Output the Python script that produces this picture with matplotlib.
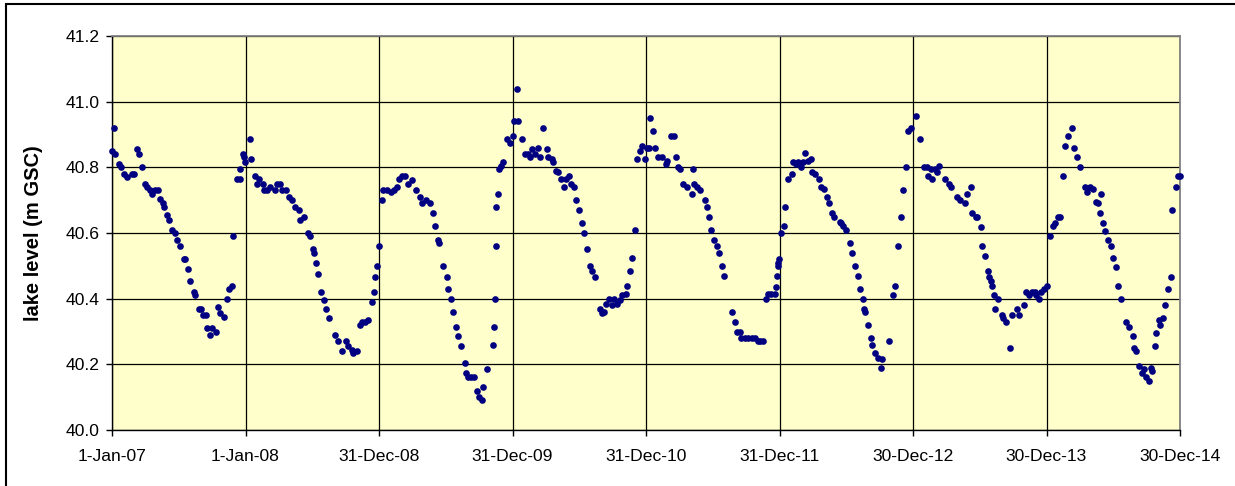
import numpy as np
import pandas as pd
import matplotlib
matplotlib.use('Agg')
import matplotlib.pyplot as plt
from matplotlib.patches import Rectangle

plt.rcParams['font.family'] = ['Liberation Sans', 'DejaVu Sans']

# Lake level readings. Days are counted from 1-Jan-2007.
START = pd.Timestamp('2007-01-01')

days_2007 = [0, 6, 9, 20, 24, 32, 41, 54, 59, 68, 73, 81, 91, 96, 105, 109, 118, 127, 130, 139,
             143, 150, 155, 164, 173, 178, 187, 196, 200, 209, 214, 223, 228, 237, 243, 250, 258,
             261, 267, 273, 285, 291, 296, 305, 314, 319, 328, 332, 341, 349, 351, 358, 360, 364,
             376, 380, 392, 396]
level_2007 = [40.85, 40.92, 40.84, 40.81, 40.80, 40.78, 40.77, 40.78, 40.78, 40.855, 40.84, 40.80,
              40.75, 40.74, 40.73, 40.72, 40.73, 40.73, 40.705, 40.69, 40.68, 40.655, 40.64, 40.61,
              40.60, 40.58, 40.56, 40.52, 40.52, 40.49, 40.455, 40.42, 40.41, 40.37, 40.37, 40.35,
              40.35, 40.31, 40.29, 40.31, 40.30, 40.375, 40.355, 40.345, 40.40, 40.43, 40.44, 40.59,
              40.765, 40.765, 40.795, 40.84, 40.83, 40.815, 40.885, 40.825, 40.775, 40.75]

days_2008 = [403, 412, 416, 423, 432, 446, 452, 458, 464, 476, 485, 492, 501, 510, 514, 525, 535,
             540, 549, 553, 558, 563, 571, 580, 585, 593, 611, 619, 628, 640, 646, 656, 660, 669,
             677, 683, 693, 701, 710, 717, 719, 724, 729, 738, 742, 751]
level_2008 = [40.765, 40.75, 40.73, 40.73, 40.74, 40.73, 40.75, 40.75, 40.73, 40.73, 40.71, 40.70,
              40.68, 40.67, 40.64, 40.65, 40.60, 40.59, 40.55, 40.54, 40.51, 40.475, 40.42, 40.395,
              40.37, 40.34, 40.29, 40.27, 40.24, 40.27, 40.255, 40.245, 40.235, 40.24, 40.32, 40.33,
              40.33, 40.335, 40.39, 40.42, 40.465, 40.50, 40.56, 40.70, 40.73, 40.73]

days_2009 = [762, 770, 779, 786, 792, 801, 810, 820, 831, 842, 847, 859, 870, 879, 884, 892, 893,
             906, 915, 920, 927, 932, 941, 945, 953, 964, 968, 974, 982, 990, 997, 1004, 1012,
             1015, 1025, 1043, 1045, 1047, 1049, 1051, 1054, 1059, 1064, 1070, 1081, 1088, 1095,
             1099, 1106, 1111]
level_2009 = [40.725, 40.73, 40.74, 40.765, 40.775, 40.775, 40.75, 40.76, 40.73, 40.71, 40.69,
              40.70, 40.69, 40.66, 40.62, 40.58, 40.57, 40.50, 40.465, 40.43, 40.40, 40.36, 40.315,
              40.285, 40.255, 40.205, 40.175, 40.16, 40.16, 40.16, 40.12, 40.10, 40.09, 40.13,
              40.185, 40.26, 40.315, 40.40, 40.56, 40.68, 40.72, 40.795, 40.805, 40.815, 40.885,
              40.875, 40.895, 40.94, 41.04, 40.94]

days_2010 = [1122, 1129, 1137, 1143, 1149, 1157, 1166, 1170, 1179, 1188, 1193, 1202, 1207, 1213,
             1219, 1228, 1237, 1240, 1250, 1255, 1264, 1268, 1277, 1286, 1291, 1299, 1307, 1313,
             1321, 1334, 1339, 1346, 1352, 1360, 1366, 1373, 1380, 1389, 1395, 1404, 1409, 1417,
             1422, 1430, 1435, 1444, 1450, 1457, 1462, 1468, 1471, 1478, 1484]
level_2010 = [40.885, 40.84, 40.84, 40.83, 40.855, 40.84, 40.86, 40.83, 40.92, 40.855, 40.83,
              40.825, 40.815, 40.79, 40.785, 40.765, 40.74, 40.765, 40.775, 40.75, 40.74, 40.70,
              40.67, 40.63, 40.60, 40.55, 40.50, 40.485, 40.465, 40.37, 40.355, 40.36, 40.385,
              40.40, 40.38, 40.40, 40.385, 40.395, 40.41, 40.415, 40.44, 40.485, 40.525, 40.61,
              40.825, 40.85, 40.865, 40.825, 40.86, 40.86, 40.95, 40.91, 40.86]

days_2011 = [1494, 1503, 1514, 1518, 1527, 1536, 1541, 1548, 1553, 1562, 1571, 1585, 1588, 1591,
             1600, 1609, 1621, 1626, 1633, 1637, 1646, 1655, 1660, 1668, 1673, 1695, 1703, 1708,
             1717, 1721, 1730, 1739, 1749, 1758, 1767, 1773, 1780, 1788, 1794, 1803, 1812, 1815,
             1819, 1820, 1822, 1824, 1828, 1837, 1841, 1849]
level_2011 = [40.83, 40.83, 40.81, 40.82, 40.895, 40.895, 40.83, 40.80, 40.795, 40.75, 40.74,
              40.72, 40.795, 40.75, 40.74, 40.73, 40.70, 40.68, 40.65, 40.61, 40.58, 40.56, 40.54,
              40.50, 40.47, 40.36, 40.33, 40.30, 40.30, 40.28, 40.28, 40.28, 40.28, 40.28, 40.27,
              40.27, 40.27, 40.40, 40.415, 40.415, 40.415, 40.435, 40.47, 40.50, 40.51, 40.52,
              40.60, 40.62, 40.68, 40.765]

days_2012 = [1858, 1862, 1869, 1876, 1883, 1890, 1896, 1903, 1911, 1914, 1923, 1933, 1938, 1947,
             1954, 1960, 1969, 1974, 1990, 1994, 1999, 2008, 2017, 2022, 2031, 2040, 2045, 2052,
             2056, 2058, 2067, 2075, 2079, 2087, 2093, 2102, 2106, 2124, 2136, 2140, 2149, 2158,
             2163, 2172, 2177, 2184, 2199, 2208, 2219]
level_2012 = [40.78, 40.815, 40.81, 40.815, 40.80, 40.815, 40.845, 40.82, 40.825, 40.785, 40.78,
              40.765, 40.74, 40.735, 40.71, 40.69, 40.66, 40.65, 40.635, 40.63, 40.62, 40.61,
              40.57, 40.54, 40.50, 40.47, 40.43, 40.40, 40.37, 40.36, 40.32, 40.28, 40.26, 40.235,
              40.22, 40.19, 40.215, 40.27, 40.41, 40.44, 40.56, 40.65, 40.73, 40.80, 40.91, 40.92,
              40.955, 40.885, 40.80]

days_2013 = [2227, 2231, 2238, 2243, 2249, 2256, 2260, 2277, 2289, 2295, 2309, 2318, 2331, 2339,
             2348, 2352, 2363, 2366, 2375, 2379, 2388, 2396, 2399, 2402, 2406, 2411, 2414, 2422,
             2432, 2436, 2445, 2454, 2461, 2473, 2480, 2494, 2498, 2507, 2514, 2523, 2527, 2534,
             2541, 2547, 2555, 2564, 2573, 2577, 2586]
level_2013 = [40.80, 40.775, 40.795, 40.765, 40.795, 40.785, 40.805, 40.765, 40.75, 40.74, 40.71,
              40.70, 40.69, 40.72, 40.74, 40.66, 40.65, 40.65, 40.617, 40.56, 40.53, 40.485,
              40.465, 40.455, 40.44, 40.41, 40.37, 40.40, 40.35, 40.34, 40.33, 40.25, 40.35, 40.37,
              40.35, 40.38, 40.42, 40.41, 40.42, 40.42, 40.41, 40.40, 40.42, 40.43, 40.44, 40.59,
              40.62, 40.63, 40.65]

days_2014 = [2593, 2600, 2605, 2614, 2626, 2630, 2639, 2647, 2660, 2666, 2673, 2682, 2691, 2697,
             2700, 2705, 2709, 2715, 2723, 2732, 2737, 2746, 2750, 2758, 2771, 2780, 2791, 2793,
             2799, 2808, 2817, 2821, 2828, 2835, 2841, 2844, 2851, 2855, 2862, 2866, 2873, 2878,
             2886, 2895, 2899, 2908, 2914, 2919]
level_2014 = [40.65, 40.775, 40.865, 40.895, 40.92, 40.86, 40.83, 40.80, 40.74, 40.725, 40.74,
              40.735, 40.695, 40.69, 40.66, 40.72, 40.63, 40.605, 40.58, 40.56, 40.525, 40.495,
              40.44, 40.40, 40.33, 40.315, 40.285, 40.25, 40.24, 40.195, 40.175, 40.185, 40.16,
              40.15, 40.19, 40.18, 40.255, 40.295, 40.335, 40.32, 40.34, 40.38, 40.43, 40.465,
              40.67, 40.74, 40.775, 40.775]

# x-axis ticks: every 365 days from the start
tick_days = [0, 365, 730, 1095, 1460, 1825, 2190, 2555, 2920]
tick_labels = ['1-Jan-07', '1-Jan-08', '31-Dec-08', '31-Dec-09', '31-Dec-10',
               '31-Dec-11', '30-Dec-12', '30-Dec-13', '30-Dec-14']
y_ticks = [40.0, 40.2, 40.4, 40.6, 40.8, 41.0, 41.2]

days = (days_2007 + days_2008 + days_2009 + days_2010 +
        days_2011 + days_2012 + days_2013 + days_2014)
levels = (level_2007 + level_2008 + level_2009 + level_2010 +
          level_2011 + level_2012 + level_2013 + level_2014)
dates = START + pd.to_timedelta(days, unit='D')
tick_dates = START + pd.to_timedelta(tick_days, unit='D')

W, H = 1235, 486
fig = plt.figure(figsize=(W / 100, H / 100), dpi=100)
fig.patch.set_facecolor('white')

# plot area in pixels: left 112, right 1180, top 36, bottom 430
ax = fig.add_axes([112 / W, 1 - 430 / H, (1180 - 112) / W, (430 - 36) / H])
ax.set_facecolor('#FFFFCC')

ax.plot(dates, levels, 'o', color='#000080', markersize=4.8, markeredgewidth=0,
        clip_on=False, zorder=3)

ax.set_xlim(tick_dates[0], tick_dates[-1])
ax.set_ylim(40.0, 41.2)
ax.set_xticks(tick_dates)
ax.set_xticklabels(tick_labels)
ax.set_yticks(y_ticks)
ax.set_yticklabels([f'{v:.1f}' for v in y_ticks])

ax.grid(True, color='black', linewidth=0.9)
ax.set_axisbelow(True)

for side in ['top', 'right']:
    ax.spines[side].set_color('#808080')
    ax.spines[side].set_linewidth(1.3)
for side in ['left', 'bottom']:
    ax.spines[side].set_color('black')
    ax.spines[side].set_linewidth(1.0)

ax.tick_params(axis='both', direction='out', length=4, width=1, colors='black',
               labelsize=12.6)
ax.tick_params(axis='x', pad=10)
ax.tick_params(axis='y', pad=5)

ax.set_ylabel('lake level (m GSC)', fontsize=14.5, fontweight='bold')
ax.yaxis.set_label_coords((43 - 112) / (1180 - 112), 0.5)

# chart border
fig.add_artist(Rectangle((6 / W, -0.1), 1.2, 1.1 - 4 / H, transform=fig.transFigure,
                         fill=False, edgecolor='black', linewidth=1.5))

fig.savefig('out.png', dpi=100, facecolor='white')
